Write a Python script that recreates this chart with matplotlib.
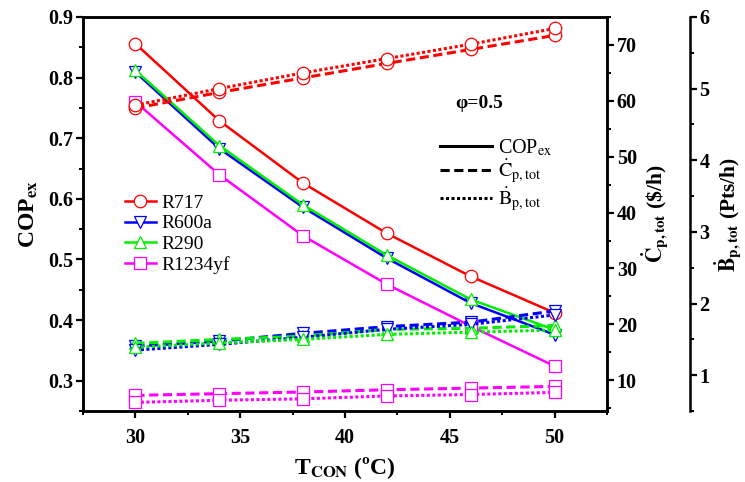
import numpy as np
import matplotlib
matplotlib.use("Agg")
import matplotlib.pyplot as plt
from matplotlib.lines import Line2D
from matplotlib.ticker import MultipleLocator

plt.rcParams['font.family'] = ['Liberation Serif', 'DejaVu Serif']
plt.rcParams['mathtext.fontset'] = 'stix'

# DATA
t_con = [30, 34, 38, 42, 46, 50]
refrigerants = ['R717', 'R600a', 'R290', 'R1234yf']
colors = ['#ff0000', '#0000ff', '#00ee00', '#ff00ff']
markers = ['o', 'v', '^', 's']

cop_r717 = [0.856, 0.729, 0.626, 0.543, 0.472, 0.412]
cop_r600a = [0.809, 0.683, 0.586, 0.502, 0.428, 0.376]
cop_r290 = [0.812, 0.688, 0.590, 0.507, 0.434, 0.384]
cop_r1234yf = [0.760, 0.640, 0.539, 0.459, 0.390, 0.324]

cdot_r717 = [58.7, 61.5, 64.1, 66.7, 69.2, 71.7]
cdot_r600a = [16.1, 17.0, 18.4, 19.6, 20.4, 22.4]
cdot_r290 = [16.6, 17.3, 17.9, 19.1, 19.3, 19.8]
cdot_r1234yf = [7.3, 7.6, 7.9, 8.3, 8.6, 8.9]

bdot_r717 = [4.77, 5.00, 5.22, 5.42, 5.62, 5.84]
bdot_r600a = [1.35, 1.43, 1.53, 1.64, 1.71, 1.84]
bdot_r290 = [1.39, 1.45, 1.50, 1.57, 1.60, 1.63]
bdot_r1234yf = [0.62, 0.65, 0.67, 0.71, 0.73, 0.76]

cop = [cop_r717, cop_r600a, cop_r290, cop_r1234yf]
cdot = [cdot_r717, cdot_r600a, cdot_r290, cdot_r1234yf]
bdot = [bdot_r717, bdot_r600a, bdot_r290, bdot_r1234yf]

# FIGURE
fig = plt.figure(figsize=(7.45, 4.82), dpi=100)
ax = fig.add_axes([83/745, 1-411/482, 524/745, 394/482])
ax2 = ax.twinx()
ax3 = ax.twinx()
ax3.spines['right'].set_position(('axes', 1.158))

dash = (0, (3, 1.5))
dot = (0, (1, 0.8))
mk = dict(markersize=9, markerfacecolor='white', markeredgewidth=0.9)

for i in range(len(refrigerants)):
    ax.plot(t_con, cop[i], color=colors[i], lw=1.8, marker=markers[i],
            markeredgecolor=colors[i], **mk)
    ax2.plot(t_con, cdot[i], color=colors[i], lw=2.2, ls=dash, marker=markers[i],
             markeredgecolor=colors[i], **mk)
    ax3.plot(t_con, bdot[i], color=colors[i], lw=2.2, ls=dot, marker=markers[i],
             markeredgecolor=colors[i], **mk)

# AXES limits and ticks
ax.set_xlim(27.5, 52.5)
ax.set_ylim(0.25, 0.9)
ax2.set_ylim(4.5, 75)
ax3.set_ylim(0.5, 6)

ax.xaxis.set_major_locator(MultipleLocator(5))
ax.xaxis.set_minor_locator(MultipleLocator(2.5))
ax.yaxis.set_major_locator(MultipleLocator(0.1))
ax.yaxis.set_minor_locator(MultipleLocator(0.05))
ax2.yaxis.set_major_locator(MultipleLocator(10))
ax2.yaxis.set_minor_locator(MultipleLocator(5))
ax3.yaxis.set_major_locator(MultipleLocator(1))
ax3.yaxis.set_minor_locator(MultipleLocator(0.5))

for a in (ax, ax2, ax3):
    for s in a.spines.values():
        s.set_linewidth(1.8)
    a.tick_params(which='major', direction='out', length=5, width=1.6,
                  labelsize=14.5, pad=2)
    a.tick_params(which='minor', direction='out', length=3, width=1.4)
    for lab in a.get_xticklabels() + a.get_yticklabels():
        lab.set_fontweight('bold')
ax.tick_params(axis='x', which='major', pad=7)
ax3.spines['top'].set_visible(False)
ax3.spines['left'].set_visible(False)
ax3.spines['bottom'].set_visible(False)

# LABELS
ax.set_ylabel(r'COP$_{\mathbf{ex}}$', fontsize=17, fontweight='bold', labelpad=6)
ax.set_xlabel(r'T$_{\mathbf{CON}}$ (ºC)', fontsize=17, fontweight='bold', labelpad=5)
ax2.set_ylabel(r'$\mathbf{\dot{C}_{p,tot}}$ (\$/h)', fontsize=15.5, fontweight='bold', labelpad=2)
ax3.set_ylabel(r'$\mathbf{\dot{B}_{p,tot}}$ (Pts/h)', fontsize=15.5, fontweight='bold', labelpad=2)

ax.text(0.71, 0.78, 'φ=0.5', transform=ax.transAxes, fontsize=14,
        fontweight='bold', ha='left', va='center')

# LEGEND 1: refrigerants
handles1 = [Line2D([], [], color=colors[i], lw=1.8, marker=markers[i],
                   markeredgecolor=colors[i], **mk) for i in range(len(refrigerants))]
leg1 = ax.legend(handles1, refrigerants, loc='upper left', bbox_to_anchor=(0.08, 0.55),
                 frameon=False, fontsize=14, handlelength=1.6, handletextpad=0.3,
                 labelspacing=0.15, borderpad=0, borderaxespad=0)
ax.add_artist(leg1)

# LEGEND 2: line styles
handles2 = [Line2D([], [], color='black', lw=2.2, ls='-'),
            Line2D([], [], color='black', lw=2.2, ls=dash),
            Line2D([], [], color='black', lw=2.2, ls=dot)]
labels2 = [r'COP$_{\mathrm{ex}}$', r'$\dot{\mathrm{C}}_{\mathrm{p,tot}}$',
           r'$\dot{\mathrm{B}}_{\mathrm{p,tot}}$']
ax.legend(handles2, labels2, loc='upper left', bbox_to_anchor=(0.681, 0.695),
          frameon=False, fontsize=14.5, handlelength=2.6, handletextpad=0.3,
          labelspacing=0.0, borderpad=0, borderaxespad=0)

plt.savefig('out.png', dpi=100)
